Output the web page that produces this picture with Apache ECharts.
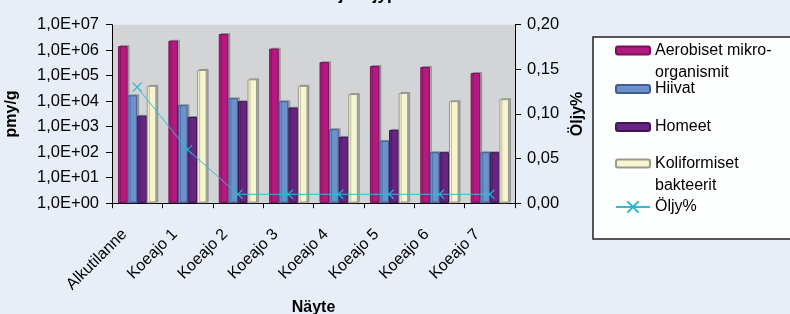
<!DOCTYPE html>
<html>
<head>
<meta charset="utf-8">
<script src="https://cdn.jsdelivr.net/npm/echarts@6/dist/echarts.min.js"></script>
<style>
html,body{margin:0;padding:0;background:#E8EEF8;}
#c{width:790px;height:314px;}
</style>
</head>
<body>
<div id="c"></div>
<script>
// ---- data ----
const categories = ['Alkutilanne','Koeajo 1','Koeajo 2','Koeajo 3','Koeajo 4','Koeajo 5','Koeajo 6','Koeajo 7'];
const aerobiset = [1450000, 2350000, 4300000, 1150000, 340000, 240000, 220000, 127000];
const hiivat = [17000, 7000, 13000, 10000, 800, 280, 100, 100];
const homeet = [2700, 2400, 10000, 5600, 400, 750, 100, 100];
const koliformiset = [40000, 167000, 72000, 40000, 19000, 21000, 10000, 12000];
const oljy = [0.13, 0.06, 0.01, 0.01, 0.01, 0.01, 0.01, 0.01];
const seriesNames = ['Aerobiset mikro-\norganismit','Hiivat','Homeet','Koliformiset\nbakteerit','Öljy%'];
const leftTickLabels = ['1,0E+00','1,0E+01','1,0E+02','1,0E+03','1,0E+04','1,0E+05','1,0E+06','1,0E+07'];
const rightTickLabels = ['0,00','0,05','0,10','0,15','0,20'];
const titleText = 'Mikrobit ja öljypitoisuus';

const FONT = 'Liberation Sans, Arial, sans-serif';
const chart = echarts.init(document.getElementById('c'), null, {renderer:'canvas'});

function barStyle(fill, border){
  return {color: fill, borderColor: border, borderWidth: 1,
          shadowColor:'rgba(0,0,0,0.22)', shadowOffsetX:2, shadowOffsetY:-1, shadowBlur:0};
}
const iconCenters = [50.5, 89, 127, 163.5, 207];
const legends = seriesNames.map((n, i) => {
  const multi = n.indexOf('\n') >= 0;
  return {
    data: [n],
    left: 615, top: iconCenters[i] - (multi ? 33 : 11),
    padding: 0,
    orient: 'vertical',
    itemWidth: 34, itemHeight: i === 4 ? 14 : 8,
    itemGap: 0,
    selectedMode: false,
    formatter: multi ? (name => ' \n' + name) : (name => name),
    textStyle: {fontFamily: FONT, fontSize: 16, color: '#000', lineHeight: 22}
  };
});

const option = {
  backgroundColor: '#E8EEF8',
  animation: false,
  graphic: [
    {type:'rect', shape:{x:593, y:37, width:220, height:202}, style:{fill:'#FDFEFE', stroke:'#222', lineWidth:1.5}, z:-1},
    {type:'text', x:268, y:4, style:{text:titleText, font:'bold 17px ' + FONT, fill:'#000', textVerticalAlign:'bottom'}}
  ],
  legend: legends,
  grid: {left:112, right:275, top:24.7, bottom:110.8, show:true, backgroundColor:'#D3D4D6', borderWidth:0,
         containLabel:false, outerBoundsMode:'none'},
  xAxis: {
    type:'category', data: categories, boundaryGap:true,
    name:'Näyte', nameLocation:'middle', nameGap:95,
    nameTextStyle:{fontFamily:FONT, fontSize:16, fontWeight:'bold', color:'#000'},
    axisLine:{lineStyle:{color:'#000', width:1}},
    axisTick:{show:true, length:5, lineStyle:{color:'#000'}},
    axisLabel:{rotate:45, fontFamily:FONT, fontSize:16, color:'#000', margin:16, interval:0, padding:[0,18,0,0]},
    splitLine:{show:false}
  },
  yAxis: [
    {type:'log', logBase:10, min:1, max:10000000,
     name:'pmy/g', nameLocation:'middle', nameGap:92, nameRotate:90,
     nameTextStyle:{fontFamily:FONT, fontSize:16, fontWeight:'bold', color:'#000'},
     axisLine:{show:true, lineStyle:{color:'#000'}},
     axisTick:{show:true, length:6, lineStyle:{color:'#000'}},
     axisLabel:{fontFamily:FONT, fontSize:16.5, color:'#000', margin:13,
       formatter: v => leftTickLabels[Math.round(Math.log10(v))]},
     splitLine:{show:false}, minorTick:{show:false}},
    {type:'value', min:0, max:0.2, interval:0.05, position:'right',
     name:'Öljy%', nameLocation:'middle', nameGap:53, nameRotate:90,
     nameTextStyle:{fontFamily:FONT, fontSize:16, fontWeight:'bold', color:'#000'},
     axisLine:{show:true, lineStyle:{color:'#000'}},
     axisTick:{show:true, length:6, lineStyle:{color:'#000'}},
     axisLabel:{fontFamily:FONT, fontSize:16.5, color:'#000', margin:12,
       formatter: v => rightTickLabels[Math.round(v/0.05)]},
     splitLine:{show:false}}
  ],
  series: [
    {name: seriesNames[0], type:'bar', data: aerobiset, barGap:'0%', barCategoryGap:'24%', itemStyle: barStyle('#B21A7F','#7A1159')},
    {name: seriesNames[1], type:'bar', data: hiivat, itemStyle: barStyle('#6D91CC','#3F5E95')},
    {name: seriesNames[2], type:'bar', data: homeet, itemStyle: barStyle('#672583','#3E1452')},
    {name: seriesNames[3], type:'bar', data: koliformiset, itemStyle: barStyle('#F6F5D0','#9A9A88')},
    {name: seriesNames[4], type:'line', yAxisIndex:1, data: oljy,
     symbol:'path://M0,0L10,10M10,0L0,10', symbolSize:9, showSymbol:true,
     lineStyle:{color:'#33BBD6', width:1},
     itemStyle:{color:'rgba(0,0,0,0)', borderColor:'#2AB2D0', borderWidth:1.2},
     z:5}
  ]
};
chart.setOption(option);
</script>
</body>
</html>
